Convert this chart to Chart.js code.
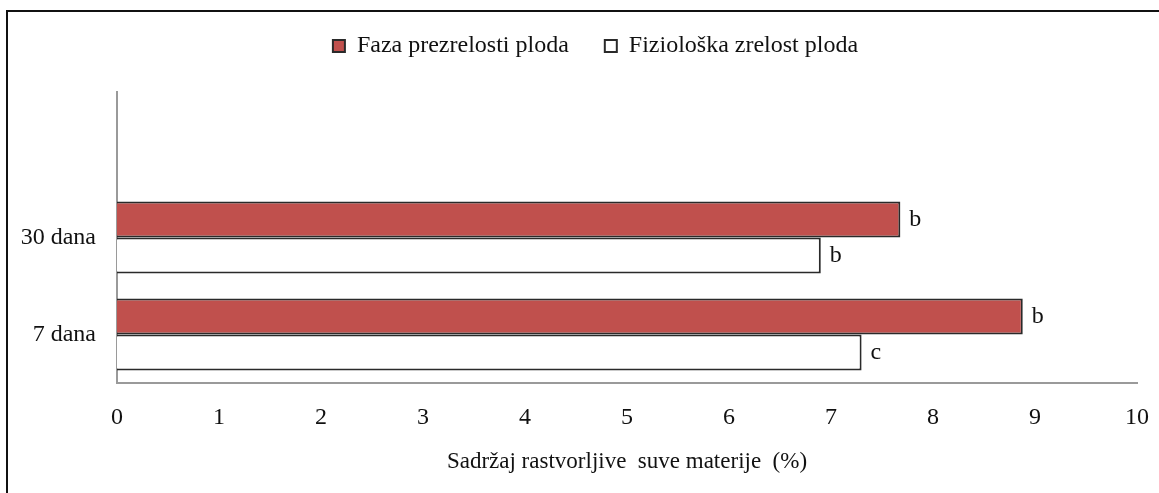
<!doctype html>
<html><head><meta charset="utf-8">
<script src="https://cdn.jsdelivr.net/npm/chart.js@4.4.1/dist/chart.umd.min.js"></script>
<style>
  html,body{margin:0;padding:0;background:#fff;overflow:hidden}
  #wrap{position:relative;width:1159px;height:493px}
  #frame{position:absolute;left:6px;top:10px;width:1200px;height:600px;border-top:2px solid #111;border-left:2px solid #111;pointer-events:none}
  canvas{display:block}
</style></head><body>
<div id="wrap"><canvas id="c" width="1159" height="493"></canvas><div id="frame"></div></div>
<script>
// categories top -> bottom (top slot is empty in the original)
const categories = ['', '30 dana', '7 dana'];
const seriesNames = ['Faza prezrelosti ploda', 'Fiziološka zrelost ploda'];
const prezrelost = [null, 7.68, 8.88];
const zrelost = [null, 6.9, 7.3];
const prezrelostLetters = ['', 'b', 'b'];
const zrelostLetters = ['', 'b', 'c'];
const xMin = 0, xMax = 10, xStep = 1;
const xTitle = 'Sadržaj rastvorljive  suve materije  (%)';

const FONT = 'Liberation Serif, Times New Roman, serif';
const INK = '#111';

// letters drawn just right of each bar end
const letterPlugin = {
  id: 'letters',
  afterDatasetsDraw(chart) {
    const ctx = chart.ctx;
    const letters = [prezrelostLetters, zrelostLetters];
    ctx.save();
    ctx.font = '24px ' + FONT;
    ctx.fillStyle = INK;
    ctx.textBaseline = 'middle';
    ctx.textAlign = 'left';
    chart.data.datasets.forEach((ds, i) => {
      chart.getDatasetMeta(i).data.forEach((bar, j) => {
        if (ds.data[j] == null || !letters[i][j]) return;
        ctx.fillText(letters[i][j], bar.x + 9, bar.y);
      });
    });
    ctx.restore();
  }
};

// pin the legend band height so the plot starts where the original does,
// and nudge the legend a bit right like in the original
const legendTweak = {
  id: 'legendTweak',
  afterInit(chart) {
    const lg = chart.legend;
    if (!lg) return;
    const fit = lg.fit.bind(lg);
    lg.fit = function () { fit(); this.height = 94; };
  },
  afterLayout(chart) {
    const lg = chart.legend;
    if (!lg) return;
    lg.left += 27;
    lg.right += 27;
  }
};

new Chart(document.getElementById('c'), {
  type: 'bar',
  data: {
    labels: categories,
    datasets: [
      { label: seriesNames[0], data: prezrelost, backgroundColor: '#c0504d', borderColor: '#2a2a2a', borderWidth: 2 },
      { label: seriesNames[1], data: zrelost, backgroundColor: '#ffffff', borderColor: '#2a2a2a', borderWidth: 2 }
    ]
  },
  options: {
    indexAxis: 'y',
    responsive: false,
    animation: false,
    categoryPercentage: 0.74,
    barPercentage: 1,
    layout: { padding: { top: -2, right: 22, left: 0, bottom: 0 } },
    plugins: {
      tooltip: { enabled: false },
      legend: {
        position: 'top',
        labels: {
          font: { family: FONT, size: 24 },
          color: INK,
          boxWidth: 12,
          boxHeight: 12,
          padding: 36
        }
      }
    },
    scales: {
      x: {
        min: xMin, max: xMax,
        grid: { display: false, drawTicks: false },
        border: { display: true, color: '#9a9a9a', width: 2 },
        ticks: { stepSize: xStep, color: INK, font: { family: FONT, size: 24 }, padding: 20 },
        title: { display: true, text: xTitle, color: INK, font: { family: FONT, size: 23 }, padding: { top: 0, bottom: 17 } },
        afterFit(s) { s.height = 110; s.paddingLeft = 0; s.paddingRight = 0; }
      },
      y: {
        grid: { display: false, drawTicks: false },
        border: { display: true, color: '#9a9a9a', width: 2 },
        ticks: { color: INK, font: { family: FONT, size: 24 }, padding: 21 },
        afterFit(s) { s.width = 117; }
      }
    }
  },
  plugins: [letterPlugin, legendTweak]
});
</script>
</body></html>
